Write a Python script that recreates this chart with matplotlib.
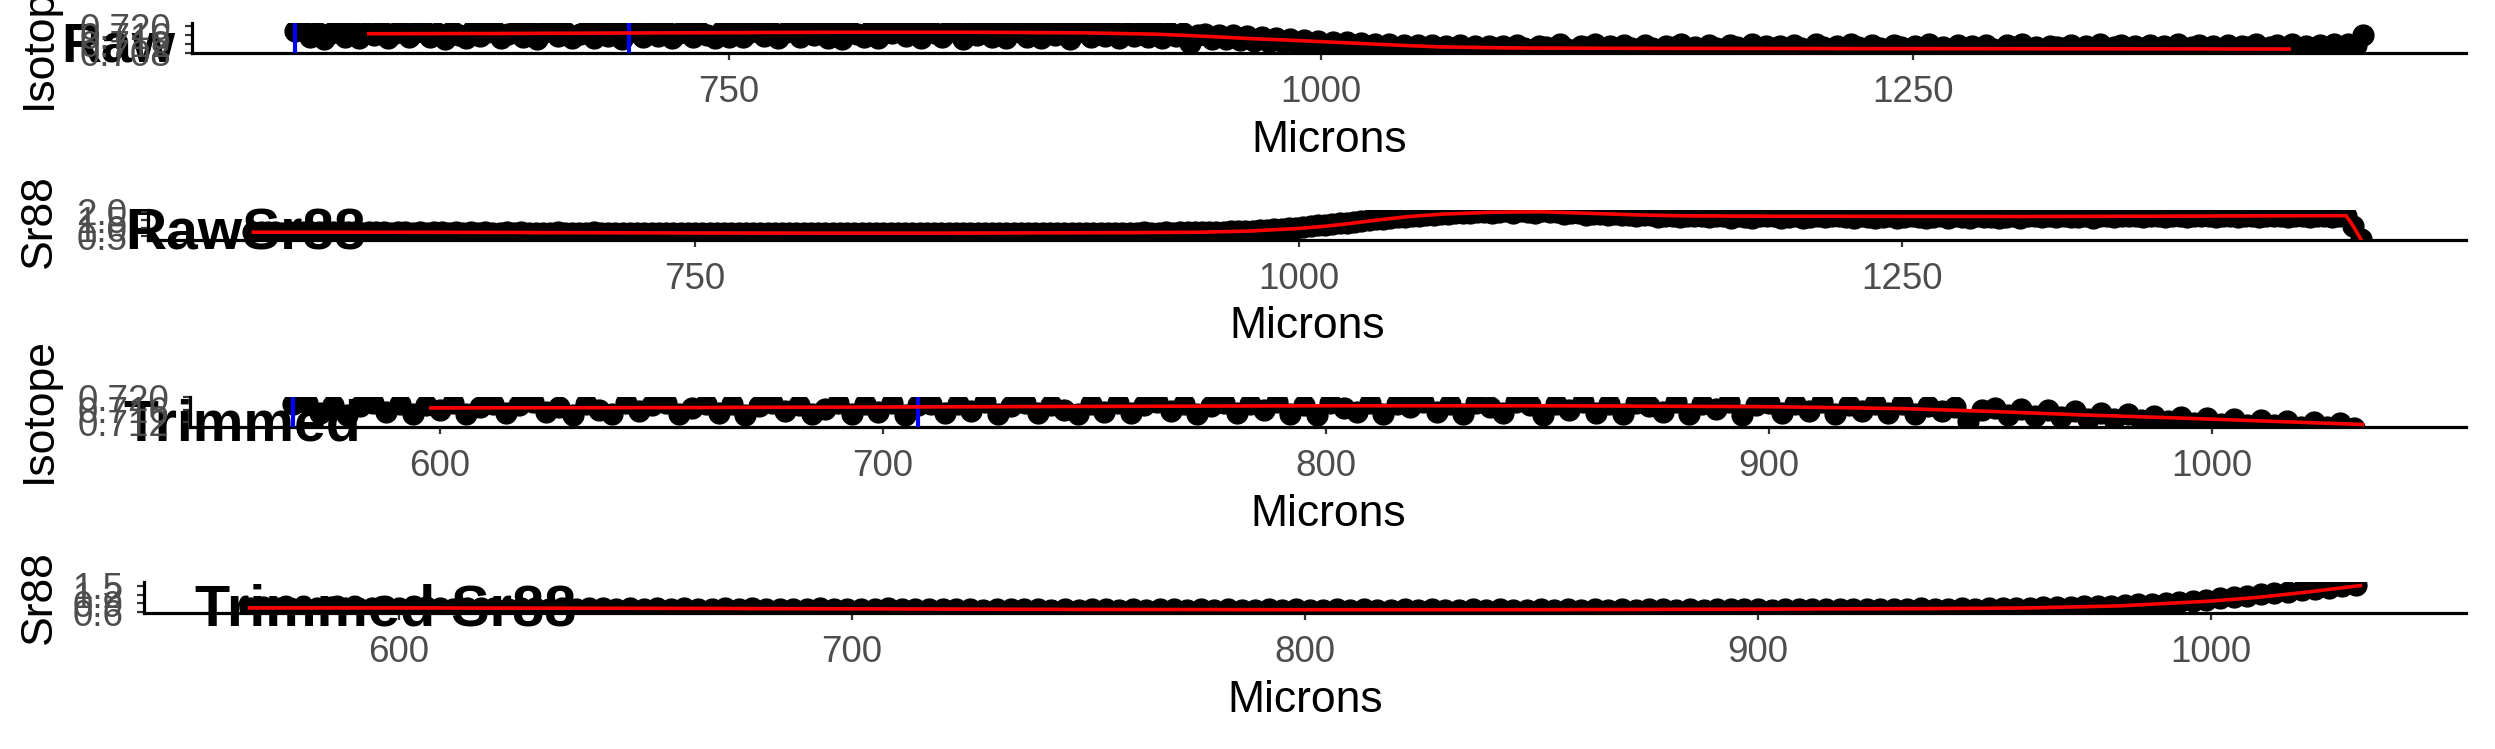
import numpy as np
import matplotlib.pyplot as plt
from matplotlib.ticker import FormatStrFormatter

plt.rcParams['font.family'] = ['Liberation Sans', 'DejaVu Sans']

W, H = 2495, 749

# laser transect, one reading every 3 microns
raw_x = np.arange(567, 1441, 3)

raw_iso = [
    0.7178, 0.7181, 0.7150, 0.7176, 0.7144, 0.7171, 0.7183, 0.7153, 0.7179, 0.7147,
    0.7175, 0.7158, 0.7182, 0.7145, 0.7168, 0.7180, 0.7149, 0.7174, 0.7184, 0.7152,
    0.7170, 0.7143, 0.7179, 0.7160, 0.7148, 0.7181, 0.7155, 0.7176, 0.7183, 0.7146,
    0.7167, 0.7180, 0.7151, 0.7177, 0.7144, 0.7172, 0.7182, 0.7157, 0.7175, 0.7148,
    0.7163, 0.7181, 0.7145, 0.7178, 0.7154, 0.7183, 0.7142, 0.7174, 0.7180, 0.7150,
    0.7177, 0.7156, 0.7184, 0.7147, 0.7171, 0.7182, 0.7151, 0.7176, 0.7161, 0.7145,
    0.7179, 0.7153, 0.7183, 0.7149, 0.7174, 0.7185, 0.7156, 0.7180, 0.7146, 0.7172,
    0.7182, 0.7150, 0.7177, 0.7159, 0.7184, 0.7148, 0.7175, 0.7143, 0.7181, 0.7166,
    0.7152, 0.7183, 0.7147, 0.7178, 0.7168, 0.7185, 0.7154, 0.7179, 0.7145, 0.7182,
    0.7170, 0.7151, 0.7184, 0.7176, 0.7144, 0.7180, 0.7158, 0.7185, 0.7149, 0.7177,
    0.7146, 0.7182, 0.7173, 0.7153, 0.7186, 0.7148, 0.7179, 0.7162, 0.7184, 0.7144,
    0.7176, 0.7181, 0.7150, 0.7178, 0.7157, 0.7184, 0.7146, 0.7175, 0.7155, 0.7180,
    0.7151, 0.7177, 0.7145, 0.7172, 0.7156, 0.7169, 0.7124, 0.7160, 0.7167, 0.7143,
    0.7162, 0.7140, 0.7158, 0.7136, 0.7155, 0.7132, 0.7150, 0.7129, 0.7146, 0.7126,
    0.7141, 0.7123, 0.7138, 0.7119, 0.7134, 0.7116, 0.7130, 0.7112, 0.7126, 0.7110,
    0.7123, 0.7106, 0.7120, 0.7104, 0.7118, 0.7102, 0.7115, 0.7100, 0.7116, 0.7098,
    0.7113, 0.7097, 0.7111, 0.7095, 0.7114, 0.7098, 0.7109, 0.7093, 0.7112, 0.7100,
    0.7109, 0.7094, 0.7115, 0.7099, 0.7091, 0.7112, 0.7104, 0.7096, 0.7117, 0.7098,
    0.7092, 0.7111, 0.7105, 0.7118, 0.7095, 0.7108, 0.7090, 0.7114, 0.7102, 0.7097,
    0.7116, 0.7101, 0.7093, 0.7111, 0.7106, 0.7120, 0.7096, 0.7104, 0.7091, 0.7113,
    0.7099, 0.7094, 0.7115, 0.7107, 0.7097, 0.7118, 0.7092, 0.7109, 0.7101, 0.7112,
    0.7095, 0.7114, 0.7102, 0.7090, 0.7117, 0.7105, 0.7098, 0.7111, 0.7093, 0.7119,
    0.7104, 0.7096, 0.7113, 0.7099, 0.7091, 0.7116, 0.7107, 0.7094, 0.7112, 0.7100,
    0.7118, 0.7097, 0.7106, 0.7092, 0.7114, 0.7101, 0.7110, 0.7095, 0.7115, 0.7098,
    0.7093, 0.7113, 0.7104, 0.7119, 0.7096, 0.7107, 0.7091, 0.7112, 0.7105, 0.7099,
    0.7115, 0.7094, 0.7109, 0.7100, 0.7117, 0.7095, 0.7106, 0.7114, 0.7097, 0.7108,
    0.7103, 0.7116, 0.7092, 0.7111, 0.7099, 0.7118, 0.7096, 0.7105, 0.7113, 0.7094,
    0.7108, 0.7098, 0.7115, 0.7095, 0.7112, 0.7104, 0.7120, 0.7097, 0.7106, 0.7114,
    0.7099, 0.7117, 0.7096, 0.7110, 0.7103, 0.7113, 0.7094, 0.7119, 0.7107, 0.7121,
    0.7114, 0.7158,
]

raw_sr88 = [
    0.75, 0.77, 0.74, 0.76, 0.73, 0.75, 0.78, 0.74, 0.76, 0.75,
    0.73, 0.76, 0.74, 0.77, 0.75, 0.72, 0.76, 0.74, 0.75, 0.73,
    0.76, 0.74, 0.72, 0.75, 0.73, 0.76, 0.74, 0.71, 0.75, 0.73,
    0.74, 0.72, 0.75, 0.73, 0.71, 0.74, 0.72, 0.75, 0.73, 0.70,
    0.73, 0.71, 0.74, 0.72, 0.70, 0.73, 0.71, 0.74, 0.72, 0.70,
    0.72, 0.70, 0.73, 0.71, 0.69, 0.72, 0.70, 0.73, 0.71, 0.69,
    0.71, 0.69, 0.72, 0.70, 0.68, 0.71, 0.69, 0.72, 0.70, 0.68,
    0.70, 0.68, 0.71, 0.69, 0.67, 0.70, 0.68, 0.71, 0.69, 0.67,
    0.70, 0.68, 0.71, 0.69, 0.67, 0.70, 0.68, 0.71, 0.69, 0.68,
    0.70, 0.68, 0.71, 0.69, 0.67, 0.70, 0.69, 0.71, 0.68, 0.70,
    0.69, 0.71, 0.68, 0.70, 0.72, 0.69, 0.71, 0.68, 0.70, 0.72,
    0.70, 0.72, 0.69, 0.71, 0.73, 0.70, 0.72, 0.71, 0.73, 0.72,
    0.71, 0.73, 0.72, 0.74, 0.72, 0.73, 0.75, 0.73, 0.74, 0.76,
    0.75, 0.76, 0.77, 0.78, 0.79, 0.80, 0.82, 0.83, 0.85, 0.87,
    0.88, 0.92, 0.95, 0.99, 1.03, 1.07, 1.11, 1.16, 1.21, 1.25,
    1.29, 1.34, 1.38, 1.43, 1.48, 1.53, 1.57, 1.62, 1.66, 1.70,
    1.73, 1.77, 1.80, 1.83, 1.86, 1.89, 1.91, 1.93, 1.95, 1.96,
    2.00, 1.92, 1.99, 2.02, 1.90, 2.03, 2.01, 1.93, 2.02, 2.00,
    1.98, 1.89, 1.94, 1.92, 1.83, 1.88, 1.87, 1.78, 1.84, 1.82,
    1.81, 1.72, 1.79, 1.78, 1.68, 1.77, 1.76, 1.69, 1.75, 1.74,
    1.74, 1.66, 1.75, 1.72, 1.65, 1.73, 1.71, 1.64, 1.72, 1.73,
    1.72, 1.65, 1.71, 1.73, 1.64, 1.70, 1.73, 1.66, 1.72, 1.74,
    1.71, 1.64, 1.72, 1.70, 1.65, 1.71, 1.72, 1.63, 1.71, 1.72,
    1.70, 1.64, 1.71, 1.73, 1.63, 1.72, 1.71, 1.65, 1.72, 1.70,
    1.71, 1.65, 1.70, 1.72, 1.64, 1.73, 1.72, 1.66, 1.73, 1.71,
    1.72, 1.66, 1.71, 1.73, 1.65, 1.74, 1.73, 1.66, 1.74, 1.72,
    1.73, 1.67, 1.72, 1.74, 1.66, 1.75, 1.74, 1.67, 1.75, 1.73,
    1.74, 1.68, 1.73, 1.75, 1.67, 1.76, 1.75, 1.68, 1.76, 1.74,
    1.75, 1.69, 1.74, 1.76, 1.68, 1.77, 1.76, 1.70, 1.77, 1.76,
    1.10, 0.35,
]

# smoothed curves (red)
iso_smooth_x = [598, 650, 700, 750, 800, 850, 900, 930, 950, 970, 990, 1010,
                1034, 1050, 1080, 1150, 1250, 1350, 1409]
iso_smooth_y = [0.7166, 0.7167, 0.7169, 0.7171, 0.7173, 0.7173, 0.7170, 0.7164,
                0.7155, 0.7144, 0.7135, 0.7125, 0.7113, 0.7106, 0.7101, 0.7099,
                0.7098, 0.7097, 0.7096]
sr_smooth_x = [567, 600, 650, 700, 750, 800, 850, 900, 940, 960, 980, 1000, 1010,
               1020, 1033, 1045, 1060, 1080, 1100, 1120, 1140, 1160, 1200, 1250,
               1300, 1350, 1400, 1434, 1437, 1440]
sr_smooth_y = [0.75, 0.75, 0.74, 0.72, 0.70, 0.69, 0.69, 0.71, 0.73, 0.75, 0.82,
               0.98, 1.10, 1.26, 1.50, 1.70, 1.86, 1.97, 2.00, 1.91, 1.81, 1.75,
               1.73, 1.72, 1.71, 1.73, 1.75, 1.76, 1.10, 0.35]

blue_lines = [567, 708]
trim_end = 1034

raw_x = np.array(raw_x)
raw_iso = np.array(raw_iso)
raw_sr88 = np.array(raw_sr88)
iso_smooth_x = np.array(iso_smooth_x)
iso_smooth_y = np.array(iso_smooth_y)
sr_smooth_x = np.array(sr_smooth_x)
sr_smooth_y = np.array(sr_smooth_y)
keep = raw_x <= trim_end
keep_iso = iso_smooth_x <= trim_end
keep_sr = sr_smooth_x <= trim_end

# title, y label, data, smooth, blue lines?, ylim, yticks, fmt, xticks, layout px
panels = [
    ('Raw', 'Isotope', raw_x, raw_iso, iso_smooth_x, iso_smooth_y, True,
     (0.7078, 0.7215), [0.708, 0.712, 0.716, 0.720], '%.3f', [750, 1000, 1250],
     192, 53, 30, (61, 62), 36, 40),
    ('RawSr88', 'Sr88', raw_x, raw_sr88, sr_smooth_x, sr_smooth_y, False,
     (0.27, 2.11), [0.5, 1.0, 1.5, 2.0], '%.1f', [750, 1000, 1250],
     148, 240, 30, (125, 250), 221, 41),
    ('Trimmed', 'Isotope', raw_x[keep], raw_iso[keep], iso_smooth_x[keep_iso],
     iso_smooth_y[keep_iso], True,
     (0.7105, 0.7201), [0.712, 0.716, 0.720], '%.3f', [600, 700, 800, 900, 1000],
     190, 427, 30, (123, 440), 410, 41),
    ('Trimmed Sr88', 'Sr88', raw_x[keep], raw_sr88[keep], sr_smooth_x[keep_sr],
     sr_smooth_y[keep_sr], False,
     (0.58, 1.62), [0.6, 0.9, 1.2, 1.5], '%.1f', [600, 700, 800, 900, 1000],
     144, 613, 31, (195, 625), 597, 41.5),
]

fig = plt.figure(figsize=(W / 100, H / 100), dpi=100)
right = 2466

for (title, ylab, x, y, sx, sy, blue, ylim, yticks, fmt, xticks,
     left, bottom, height, tpos, ylab_y, tsize) in panels:
    ax = fig.add_axes([left / W, 1 - bottom / H, (right - left) / W, height / H])
    ax.patch.set_visible(False)

    ax.plot(x, y, 'o', color='black', ms=15, mec='black', zorder=2)
    if blue:
        for b in blue_lines:
            ax.axvline(b, color='#0000FF', lw=3, zorder=3)
    ax.plot(sx, sy, color='#FF0000', lw=2.6, zorder=4)

    ax.set_ylim(ylim)
    ax.set_yticks(yticks)
    ax.yaxis.set_major_formatter(FormatStrFormatter(fmt))
    ax.set_xticks(xticks)

    for s in ['top', 'right']:
        ax.spines[s].set_visible(False)
    for s in ['left', 'bottom']:
        ax.spines[s].set_linewidth(2.3)
        ax.spines[s].set_color('black')
    ax.tick_params(axis='both', colors='#333333', length=5, width=1.6,
                   labelsize=26.5, labelcolor='#4D4D4D')
    ax.tick_params(axis='x', pad=11)
    ax.tick_params(axis='y', pad=10)

    # labels
    cx = (left + right) / 2
    fig.text(cx / W, 1 - (bottom + 87) / H, 'Microns', fontsize=32,
             ha='center', va='center')
    fig.text(39 / W, 1 - ylab_y / H, ylab, fontsize=32, rotation=90,
             ha='center', va='center')
    fig.text(tpos[0] / W, 1 - tpos[1] / H, title, fontsize=tsize,
             fontweight='bold', ha='left', va='baseline', zorder=-1)

fig.savefig('out.png', dpi=100)
